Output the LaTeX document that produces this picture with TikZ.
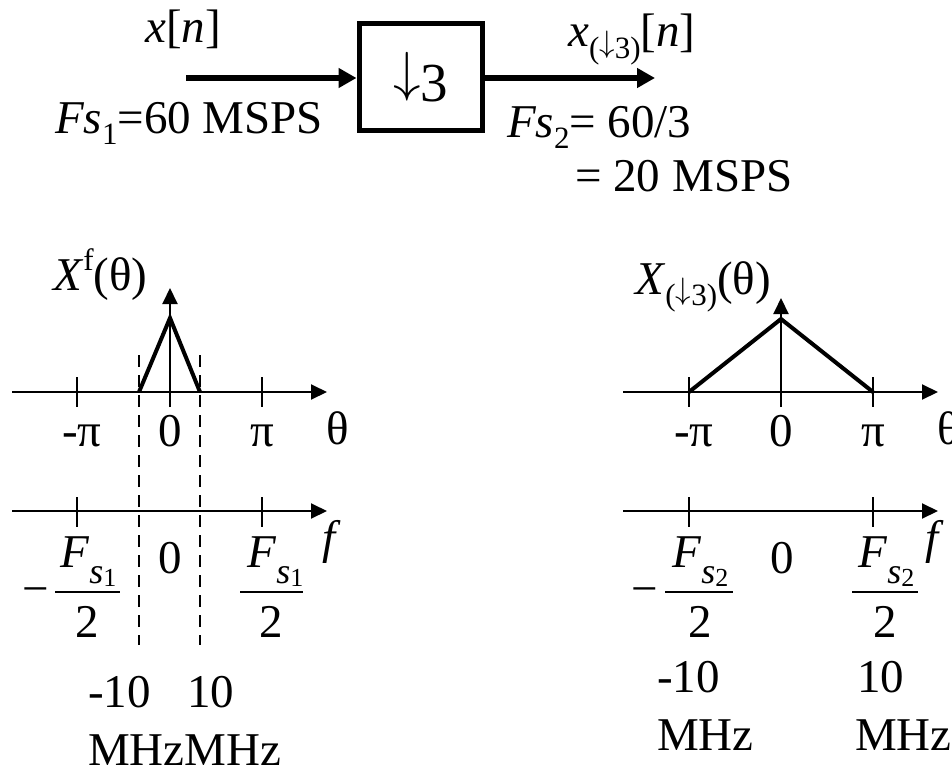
\documentclass[tikz,border=0pt]{standalone}
\usepackage{fontspec}
\setmainfont{Liberation Serif}
\DeclareFontShape{OMS}{cmsy}{m}{n}{<->cmsy10}{}
\usetikzlibrary{arrows.meta}
\newcommand{\dnarr}{\raisebox{0.2em}{$\downarrow$}}
\newcommand{\mysub}[1]{\raisebox{-0.25em}{\fontsize{31}{31}\selectfont #1}}
\newcommand{\mysup}[1]{\raisebox{0.42em}{\fontsize{31}{31}\selectfont #1}}
\newcommand{\fsnum}[1]{\textit{F}\raisebox{-0.36em}{\fontsize{36}{36}\selectfont\textit{s}\raisebox{-0.08em}{\fontsize{26}{26}\selectfont #1}}}
\begin{document}
\begin{tikzpicture}[x=1pt,y=-1pt,font=\fontsize{47}{56}\selectfont]
\tikzset{
  lbl/.style={inner sep=0pt,anchor=base},
  lblw/.style={inner sep=0pt,anchor=base west},
  axisline/.style={line width=2pt,-{Triangle[length=16pt,width=15pt]}},
  tickline/.style={line width=2pt},
  fracbar/.style={line width=2pt},
  sig/.style={line width=4pt,line join=miter},
  cutline/.style={line width=2.6pt,dash pattern=on 12pt off 8pt},
  bigarrow/.style={line width=6pt,-{Triangle[length=18pt,width=19pt]}},
  blockbox/.style={draw,line width=5pt,minimum width=123pt,minimum height=106pt,inner sep=0pt,font=\fontsize{55}{60}\selectfont}
}
\useasboundingbox (0,0) rectangle (952,768);

% ---------- top block diagram ----------
\node[blockbox] (box) at (420.5,77) {\dnarr 3};
\coordinate (inA) at (186,78);
\coordinate (outB) at (655,78);
\draw[bigarrow] (inA) -- (box.west |- inA);
\draw[bigarrow] (box.east |- outB) -- (outB);
\node[lblw] (xn) at (145,42) {\textit{x}[\textit{n}]};
\node[lblw] (xd) at (568,47) {\textit{x}\mysub{(\dnarr 3)}[\textit{n}]};
\node[lblw] (fs1) at (55,133) {\textit{Fs}\mysub{1}=60 MSPS};
\node[lblw] (fs2) at (507,137) {\textit{Fs}\mysub{2}= 60/3};
\node[lblw] (fs2b) at (575,191) {= 20 MSPS};

% ---------- left spectrum ----------
\coordinate (Lt0) at (12,392);  \coordinate (Lt1) at (327,392);
\coordinate (Lf0) at (12,511);  \coordinate (Lf1) at (327,511);
\coordinate (Lv0) at (170,407); \coordinate (Lv1) at (170,288);
\draw[axisline] (Lt0) -- (Lt1);
\draw[axisline] (Lf0) -- (Lf1);
\draw[axisline] (Lv0) -- (Lv1);
\draw[tickline] (77,377) -- (77,407);
\draw[tickline] (262,377) -- (262,407);
\draw[tickline] (77,497) -- (77,527);
\draw[tickline] (262,497) -- (262,527);
\coordinate (La) at (139,392); \coordinate (Lp) at (170,318); \coordinate (Lb) at (200,392);
\draw[sig] (La) -- (Lp) -- (Lb);
\coordinate (Ld1a) at (139,355); \coordinate (Ld1b) at (139,645);
\coordinate (Ld2a) at (200,355); \coordinate (Ld2b) at (200,645);
\draw[cutline] (Ld1a) -- (Ld1b);
\draw[cutline] (Ld2a) -- (Ld2b);
\node[lblw] (LX) at (53,290) {\textit{X}\mysup{f}(θ)};
\node[lbl] (Lmpi) at (82,446) {-π};
\node[lbl] (Lz) at (170,446) {0};
\node[lbl] (Lpi) at (262,446) {π};
\node[lblw] (Lth) at (326,444) {θ};
\node[lblw] (Lf) at (322,553) {\textit{f}};
\node[lbl] (Lz2) at (170,573) {0};
\node[lbl] (Lmin) at (36,604) {−};
\node[lblw] (Lnum1) at (60,567) {\fsnum{1}};
\draw[fracbar] (55,592) -- (120,592);
\node[lbl] (Lden1) at (87,637) {2};
\node[lblw] (Lnum2) at (247,567) {\fsnum{1}};
\draw[fracbar] (240,592) -- (303,592);
\node[lbl] (Lden2) at (271,637) {2};
\node[lblw] (Lm10) at (88,707) {-10};
\node[lblw] (Lp10) at (187,707) {10};
\node[lblw] (Lmhz) at (88,765) {MHzMHz};

% ---------- right spectrum ----------
\coordinate (Rt0) at (623,392); \coordinate (Rt1) at (938,392);
\coordinate (Rf0) at (623,511); \coordinate (Rf1) at (938,511);
\coordinate (Rv0) at (781,407); \coordinate (Rv1) at (781,298);
\draw[axisline] (Rt0) -- (Rt1);
\draw[axisline] (Rf0) -- (Rf1);
\draw[axisline] (Rv0) -- (Rv1);
\draw[tickline] (689,377) -- (689,407);
\draw[tickline] (873,377) -- (873,407);
\draw[tickline] (689,497) -- (689,527);
\draw[tickline] (873,497) -- (873,527);
\coordinate (Ra) at (689,392); \coordinate (Rp) at (781,319); \coordinate (Rb) at (873,392);
\draw[sig] (Ra) -- (Rp) -- (Rb);
\node[lblw] (RX) at (635,294) {\textit{X}\mysub{(\dnarr 3)}(θ)};
\node[lbl] (Rmpi) at (694,446) {-π};
\node[lbl] (Rz) at (781,446) {0};
\node[lbl] (Rpi) at (873,446) {π};
\node[lblw] (Rth) at (937,444) {θ};
\node[lblw] (Rf) at (925,553) {\textit{f}};
\node[lbl] (Rz2) at (782,573) {0};
\node[lbl] (Rmin) at (645,604) {−};
\node[lblw] (Rnum1) at (672,567) {\fsnum{2}};
\draw[fracbar] (665,592) -- (733,592);
\node[lbl] (Rden1) at (700,637) {2};
\node[lblw] (Rnum2) at (858,567) {\fsnum{2}};
\draw[fracbar] (852,592) -- (918,592);
\node[lbl] (Rden2) at (885,637) {2};
\node[lblw] (Rm10) at (657,692) {-10};
\node[lblw] (Rp10) at (857,692) {10};
\node[lblw] (Rmhz1) at (657,750) {MHz};
\node[lblw] (Rmhz2) at (855,750) {MHz};
\end{tikzpicture}
\end{document}
